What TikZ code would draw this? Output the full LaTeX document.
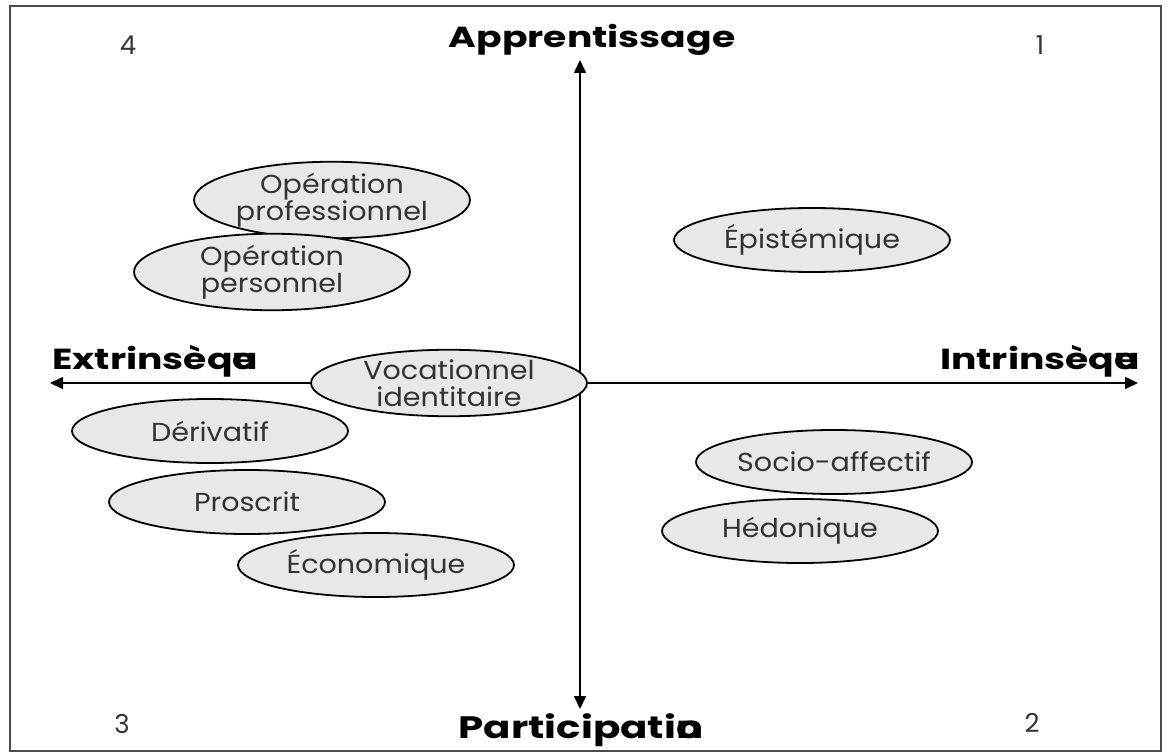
\documentclass[tikz,border=0pt]{standalone}
\usepackage{fontspec}
\setmainfont{Poppins}
\newfontfamily\polefont{Poppins}[FakeStretch=1.3]
\newfontfamily\zonefont{Poppins}[FakeStretch=1.1]
\usetikzlibrary{arrows.meta,shapes.geometric}

\definecolor{zonefill}{HTML}{E8E8E8}
\definecolor{zonetext}{HTML}{333333}

\tikzset{
    zone/.style={ellipse, draw, line width=0.9pt, fill=zonefill, text=zonetext,
        minimum width=138pt, minimum height=32pt, inner sep=0pt, align=center,
        font=\zonefont\fontsize{13}{13.5}\selectfont},
    pole/.style={inner sep=0pt, font=\polefont\bfseries\fontsize{14.5}{16}\selectfont},
    quad/.style={font=\fontsize{13}{15}\selectfont, text=zonetext},
    axis/.style={line width=0.8pt, -{Triangle[length=6.5pt,width=6pt]}}
}

\begin{document}
\begin{tikzpicture}[x=0.5pt, y=-0.5pt]
    \useasboundingbox (0,0) rectangle (1170,754);
    % Frame
    \draw[line width=1pt, black!70] (10,6) rectangle (1161,751);
    % Centre and axis ends
    \coordinate (o) at (580,383);
    \coordinate (top) at (580,60);
    \coordinate (bot) at (580,709);
    \coordinate (lft) at (50,383);
    \coordinate (rgt) at (1138,383);
    \draw[axis] (o) -- (top);
    \draw[axis] (o) -- (bot);
    \draw[axis] (o) -- (lft);
    \draw[axis] (o) -- (rgt);
    % Poles
    \node[pole, anchor=base] (appr) at (592,48) {Apprentissage};
    \node[pole, anchor=base, font=\polefont\bfseries\fontsize{15.5}{17}\selectfont]
        (part) at (581,738) {Participati\rlap{o}n};
    \node[pole, anchor=base west] (extr) at (52,369) {Extrinsèq\rlap{u}e};
    \node[pole, anchor=base east] (intr) at (1138,369) {Intrinsèq\rlap{u}e};
    % Quadrant numbers
    \node[quad] (q4) at (128,45) {4};
    \node[quad] (q1) at (1040,45) {1};
    \node[quad] (q3) at (122,724) {3};
    \node[quad] (q2) at (1032,723) {2};
    % Orientations
    \node[zone] (oprof) at (332,200) {Opération\\professionnel};
    \node[zone] (opers) at (272,272) {Opération\\personnel};
    \node[zone] (epis) at (812,240) {Épistémique};
    \node[zone] (voca) at (449,383) {Vocationnel\\identitaire};
    \node[zone] (deri) at (210,431) {Dérivatif};
    \node[zone] (pros) at (247,502) {Proscrit};
    \node[zone] (econ) at (376,565) {Économique};
    \node[zone] (soci) at (834,462) {Socio-affectif};
    \node[zone] (hedo) at (800,531) {Hédonique};
\end{tikzpicture}
\end{document}
